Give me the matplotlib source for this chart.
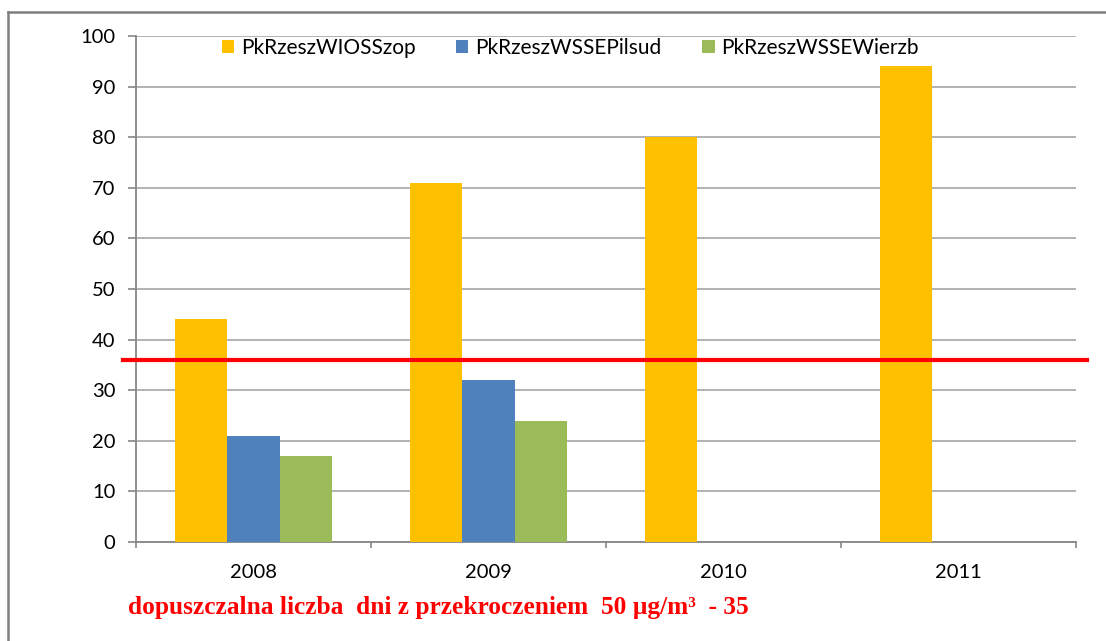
import matplotlib
matplotlib.use("Agg")
import matplotlib.pyplot as plt
import numpy as np
from matplotlib.lines import Line2D
from matplotlib.patches import Patch

# Data
years = ["2008", "2009", "2010", "2011"]
wioss_szop = [44, 71, 80, 94]
wsse_pilsud = [21, 32, None, None]
wsse_wierzb = [17, 24, None, None]
series_names = ["PkRzeszWIOSSzop", "PkRzeszWSSEPilsud", "PkRzeszWSSEWierzb"]
limit_days = 36
note = "dopuszczalna liczba  dni z przekroczeniem  50 µg/m³  - 35"

colors = ["#FFC000", "#4F81BD", "#9BBB59"]
W, H = 1106, 641

plt.rcParams["font.family"] = ["Lato", "DejaVu Sans"]

fig = plt.figure(figsize=(W / 100, H / 100), dpi=100)
ax = fig.add_axes([136 / W, 1 - 542 / H, 940 / W, 506 / H])

x = np.arange(len(years))
bw = 0.2213
all_series = [wioss_szop, wsse_pilsud, wsse_wierzb]
for i, (vals, col) in enumerate(zip(all_series, colors)):
    v = np.array([np.nan if a is None else a for a in vals], dtype=float)
    ax.bar(x + (i - 1) * bw, v, width=bw, color=col, zorder=3)

ax.set_xlim(-0.5, len(years) - 0.5)
ax.set_ylim(0, 100)
ax.set_yticks(np.arange(0, 101, 10))
ax.grid(axis="y", color="#ADADAD", linewidth=1.3, zorder=0)
ax.set_axisbelow(True)

ax.set_xticks(x)
ax.set_xticklabels(years)
ax.set_xticks(np.arange(-0.5, len(years), 1), minor=True)
ax.tick_params(axis="x", which="major", length=0, pad=16, labelsize=14.5)
ax.tick_params(axis="x", which="minor", length=4, color="#868686", width=1.2)
ax.tick_params(axis="y", length=5.8, color="#868686", width=1.2, pad=9, labelsize=14.5)

for s in ["top", "right"]:
    ax.spines[s].set_visible(False)
for s in ["left", "bottom"]:
    ax.spines[s].set_color("#868686")
    ax.spines[s].set_linewidth(1.3)

# limit line, reaching past the plot area
ax.axhline(limit_days, xmin=-0.014, xmax=1.012, color="#FF0000", lw=3, clip_on=False, zorder=5)

handles = [Patch(facecolor=c, edgecolor="none") for c in colors]
fig.legend(handles, series_names, loc="center left",
           bbox_to_anchor=(222 / W, 1 - 48 / H), ncol=3, frameon=False,
           fontsize=15, handlelength=0.58, handleheight=0.58,
           handletextpad=0.34, columnspacing=1.95, borderpad=0, borderaxespad=0)

fig.text(128 / W, 1 - 614 / H, note, color="#FF0000", fontsize=18.3,
         fontweight="bold", family="Liberation Serif", va="baseline")

# outer frame (left and top visible)
frame_col = "#7F7F7F"
fig.add_artist(Line2D([8 / W, 8 / W], [0, 1 - 12 / H], transform=fig.transFigure,
                      color=frame_col, lw=1.8))
fig.add_artist(Line2D([8 / W, 1], [1 - 12 / H, 1 - 12 / H], transform=fig.transFigure,
                      color=frame_col, lw=1.8))

fig.savefig("out.png", dpi=100)
